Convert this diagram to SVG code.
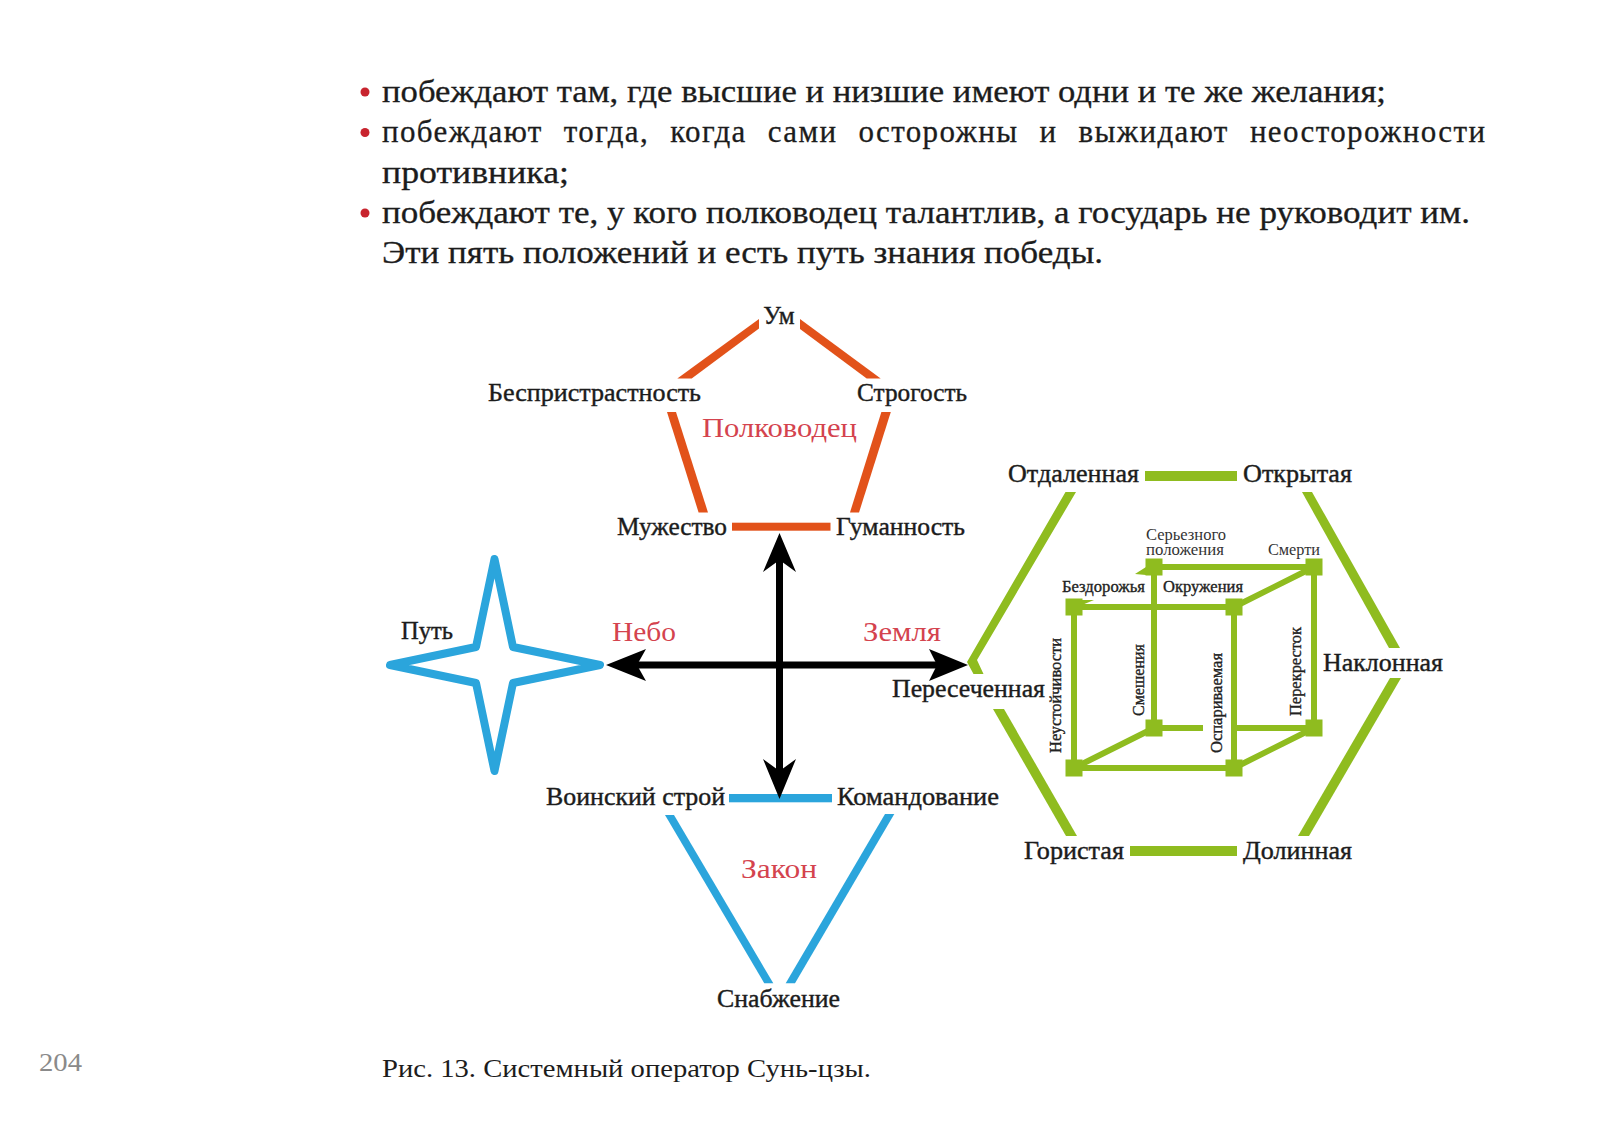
<svg xmlns="http://www.w3.org/2000/svg" width="1600" height="1127" viewBox="0 0 1600 1127">
<style>
text{font-family:"Liberation Serif","Noto Serif",serif;fill:#1c1c1c}
.b{font-size:31px;stroke:#1c1c1c;stroke-width:.3px}
.l{font-size:25px;stroke:#1c1c1c;stroke-width:.4px}
.r{font-size:27px;fill:#d4434e}
.s{font-size:16px;fill:#333}
.sb{font-size:16px;fill:#222;stroke:#222;stroke-width:.35px}
.g{fill:#8fbc1f;stroke:none}
.gl{stroke:#8fbc1f;stroke-width:6;fill:none}
.o{fill:#e2521a;stroke:none}
.c{fill:#2ba5dc;stroke:none}
.k{fill:#000;stroke:none}
.kl{stroke:#000;stroke-width:7;fill:none}
.dot{fill:#c8242e}
</style>
<rect width="1600" height="1127" fill="#fff"/>
<g id="body-text">
<circle class="dot" cx="365" cy="92" r="4.5"/><circle class="dot" cx="365" cy="132.5" r="4.5"/><circle class="dot" cx="365" cy="213" r="4.5"/>
<text class="b" x="382" y="102" textLength="1004" lengthAdjust="spacingAndGlyphs">побеждают там, где высшие и низшие имеют одни и те же желания;</text>
<text class="b" x="382" y="142" textLength="1103" lengthAdjust="spacing" word-spacing="12">побеждают тогда, когда сами осторожны и выжидают неосторожности</text>
<text class="b" x="382" y="183" textLength="187" lengthAdjust="spacingAndGlyphs">противника;</text>
<text class="b" x="382" y="223" textLength="1088" lengthAdjust="spacingAndGlyphs">побеждают те, у кого полководец талантлив, а государь не руководит им.</text>
<text class="b" x="382" y="263" textLength="721" lengthAdjust="spacingAndGlyphs">Эти пять положений и есть путь знания победы.</text>
</g>
<g id="general">
<polygon class="o" points="759,319 759,328.5 691.7,378.5 677.3,378.5"/>
<polygon class="o" points="800,319 800,329 866.7,378.5 880.7,378.5"/>
<polygon class="o" points="667,412 676,412 708,512.5 698.6,512.5"/>
<polygon class="o" points="881.4,412 890.8,412 859,512.5 850,512.5"/>
<rect class="o" x="732" y="522.7" width="98.5" height="8"/>
<text class="l" x="779" y="324" text-anchor="middle">Ум</text>
<text class="l" x="488" y="401" textLength="213" lengthAdjust="spacingAndGlyphs">Беспристрастность</text>
<text class="l" x="857" y="401" textLength="110" lengthAdjust="spacingAndGlyphs">Строгость</text>
<text class="r" x="702" y="437" textLength="155" lengthAdjust="spacingAndGlyphs">Полководец</text>
<text class="l" x="617" y="535" textLength="110" lengthAdjust="spacingAndGlyphs">Мужество</text>
<text class="l" x="836" y="535" textLength="129" lengthAdjust="spacingAndGlyphs">Гуманность</text>
</g>
<g id="path-star">
<path d="M390 665L476 647L494.5 559L513 647L600 665L513 683L494.5 771L476 683Z" fill="#fff" stroke="#2ba5dc" stroke-width="8" stroke-linejoin="round"/>
<text class="l" x="401" y="639" textLength="52" lengthAdjust="spacingAndGlyphs">Путь</text>
</g>
<g id="heaven-earth">
<text class="r" x="612" y="640.5" textLength="64" lengthAdjust="spacingAndGlyphs">Небо</text>
<text class="r" x="863" y="640.5" textLength="78" lengthAdjust="spacingAndGlyphs">Земля</text>
</g>
<g id="law">
<rect class="c" x="729" y="794" width="103" height="8.3"/>
<polygon class="c" points="665,815 674,815 773.3,983.3 764.3,983.3"/>
<polygon class="c" points="885,814 894.3,814 795,983.3 785.7,983.3"/>
<text class="l" x="546" y="805" textLength="179" lengthAdjust="spacingAndGlyphs">Воинский строй</text>
<text class="l" x="837" y="805" textLength="162" lengthAdjust="spacingAndGlyphs">Командование</text>
<text class="r" x="741" y="878" textLength="76" lengthAdjust="spacingAndGlyphs">Закон</text>
<text class="l" x="717" y="1007" textLength="123" lengthAdjust="spacingAndGlyphs">Снабжение</text>
</g>
<g id="connectors">
<path class="kl" d="M779.5 555V775M630 665H945"/>
<polygon class="k" points="779.5,533 796,572 779.5,560 763,572"/>
<polygon class="k" points="779.5,799 796,759 779.5,771 763,759"/>
<polygon class="k" points="606,665 646,649 637,665 646,681"/>
<polygon class="k" points="968,665 929,649 937,665 929,681"/>
</g>
<g id="terrain-hexagon">
<rect class="g" x="1145" y="471" width="92" height="10"/>
<rect class="g" x="1130" y="846" width="107" height="10"/>
<polygon class="g" points="1065.5,492 1076,492 977,660 983.5,674 973.5,674 967,662"/>
<polygon class="g" points="993,709 1004,709 1077,836 1066,836"/>
<polygon class="g" points="1302,492 1312,492 1400,648 1389,648"/>
<polygon class="g" points="1390,678 1401,678 1309,836 1298,836"/>
<text class="l" x="1008" y="482" textLength="131" lengthAdjust="spacingAndGlyphs">Отдаленная</text>
<text class="l" x="1243" y="482" textLength="109" lengthAdjust="spacingAndGlyphs">Открытая</text>
<text class="l" x="1323" y="671" textLength="120" lengthAdjust="spacingAndGlyphs">Наклонная</text>
<text class="l" x="892" y="697" textLength="153" lengthAdjust="spacingAndGlyphs">Пересеченная</text>
<text class="l" x="1024" y="859" textLength="100" lengthAdjust="spacingAndGlyphs">Гористая</text>
<text class="l" x="1243" y="859" textLength="109" lengthAdjust="spacingAndGlyphs">Долинная</text>
</g>
<g id="ground-cube">
<path class="gl" d="M1154 567H1314V728M1154 567V728H1203M1237 728H1314M1074 607H1234V768H1074ZM1074 768L1154 728M1234 768L1314 728M1234 607L1314 567"/>
<g class="g">
<rect x="1065.5" y="598.5" width="17" height="17"/><rect x="1225.5" y="598.5" width="17" height="17"/>
<rect x="1065.5" y="759.5" width="17" height="17"/><rect x="1225.5" y="759.5" width="17" height="17"/>
<rect x="1145.5" y="558.5" width="17" height="17"/><rect x="1305.5" y="558.5" width="17" height="17"/>
<rect x="1145.5" y="719.5" width="17" height="17"/><rect x="1305.5" y="719.5" width="17" height="17"/>
<polygon points="1135,574 1146,567 1146,575"/>
<polygon points="1082,600 1094,600 1082,605"/>
</g>
<text class="s" x="1146" y="540" textLength="80" lengthAdjust="spacingAndGlyphs">Серьезного</text>
<text class="s" x="1146" y="555" textLength="78" lengthAdjust="spacingAndGlyphs">положения</text>
<text class="s" x="1268" y="555" textLength="52" lengthAdjust="spacingAndGlyphs">Смерти</text>
<text class="sb" x="1062" y="592" textLength="83" lengthAdjust="spacingAndGlyphs">Бездорожья</text>
<text class="sb" x="1163" y="592" textLength="80" lengthAdjust="spacingAndGlyphs">Окружения</text>
<text class="sb" transform="translate(1061 753) rotate(-90)" textLength="115" lengthAdjust="spacingAndGlyphs">Неустойчивости</text>
<text class="sb" transform="translate(1144 716) rotate(-90)" textLength="72" lengthAdjust="spacingAndGlyphs">Смешения</text>
<text class="sb" transform="translate(1222 753) rotate(-90)" textLength="100" lengthAdjust="spacingAndGlyphs">Оспариваемая</text>
<text class="sb" transform="translate(1301 716) rotate(-90)" textLength="89" lengthAdjust="spacingAndGlyphs">Перекресток</text>
</g>
<g id="footer">
<text x="39" y="1071" font-size="25" style="fill:#8a8a8a" textLength="43" lengthAdjust="spacingAndGlyphs">204</text>
<text x="382" y="1077" font-size="25" textLength="489" lengthAdjust="spacingAndGlyphs">Рис. 13. Системный оператор Сунь-цзы.</text>
</g>
</svg>
